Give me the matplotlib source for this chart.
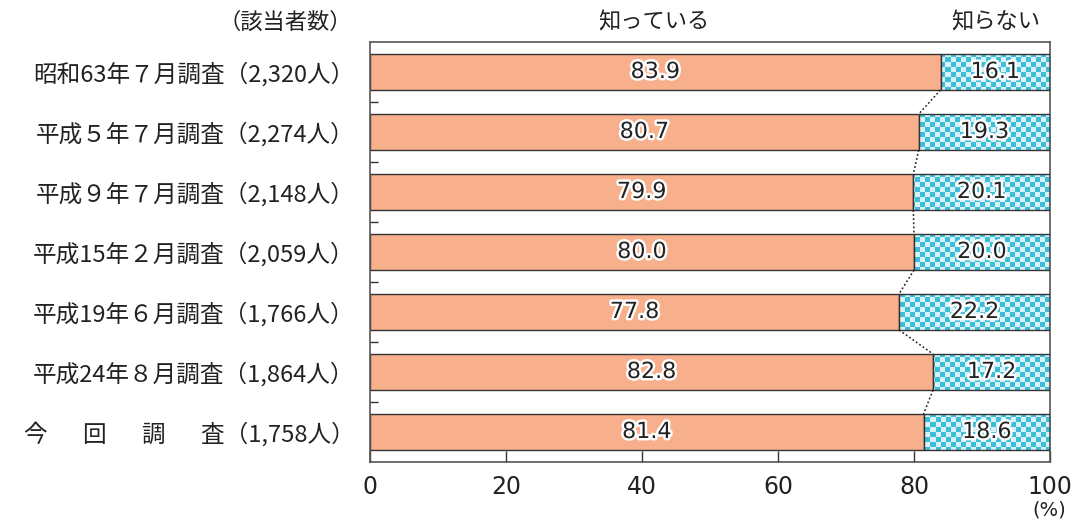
import numpy as np
import matplotlib.pyplot as plt
import matplotlib.patheffects as pe
from matplotlib.colors import ListedColormap

plt.rcParams['font.family'] = ['Noto Sans CJK JP', 'DejaVu Sans']

labels = ["昭和63年７月調査（2,320人）", "平成５年７月調査（2,274人）", "平成９年７月調査（2,148人）",
          "平成15年２月調査（2,059人）", "平成19年６月調査（1,766人）", "平成24年８月調査（1,864人）",
          "今\u3000\u2002回\u3000\u2002調\u3000\u2002査（1,758人）"]
know = [83.9, 80.7, 79.9, 80.0, 77.8, 82.8, 81.4]
dont_know = [16.1, 19.3, 20.1, 20.0, 22.2, 17.2, 18.6]
xticks = [0, 20, 40, 60, 80, 100]

ORANGE = "#f8af8b"
EDGE = "#333333"
TXT = "#222222"
H = 0.6

fig = plt.figure(figsize=(10.78, 5.21), dpi=100)
ax = fig.add_axes([370 / 1078, 1 - 462 / 521, 680 / 1078, 420 / 521])

y = np.arange(len(labels))
ax.barh(y, know, height=H, color=ORANGE, edgecolor=EDGE, linewidth=1)
bars2 = ax.barh(y, dont_know, left=know, height=H, color="none", edgecolor=EDGE, linewidth=1, zorder=3)

# checkered fill, clipped to each bar
nx, ny = 136, 84
checker = (np.add.outer(np.arange(ny), np.arange(nx)) % 2)
cmap = ListedColormap(["#3bbfd9", "#d9f1f7"])
for b in bars2:
    im = ax.imshow(checker, cmap=cmap, extent=(0, 100, 6.5, -0.5), aspect="auto",
                   interpolation="nearest", zorder=2)
    im.set_clip_path(b)

stroke = [pe.withStroke(linewidth=3.5, foreground="white")]
for i in range(len(labels)):
    ax.text(know[i] / 2, i, f"{know[i]:.1f}", ha="center", va="center", fontsize=16,
            family="DejaVu Sans", color=TXT, path_effects=stroke, zorder=5)
    ax.text(know[i] + dont_know[i] / 2, i, f"{dont_know[i]:.1f}", ha="center", va="center",
            fontsize=16, family="DejaVu Sans", color=TXT, path_effects=stroke, zorder=5)

# dotted connectors between bar boundaries
for i in range(len(labels) - 1):
    ax.plot([know[i], know[i + 1]], [i + H / 2, i + 1 - H / 2], ls=(0, (1.2, 1.5)),
            color=TXT, lw=1.1, zorder=4)

ax.set_xlim(0, 100)
ax.set_ylim(len(labels) - 0.5, -0.5)
ax.set_xticks(xticks)
ax.set_xticklabels([str(t) for t in xticks], fontsize=17, family="DejaVu Sans", color=TXT)
ax.tick_params(axis="x", direction="in", length=8, width=1, color="#333333", pad=9)
ax.set_yticks(y)
ax.set_yticklabels(labels, fontsize=17, color=TXT)
ax.tick_params(axis="y", which="major", length=0, pad=11)
ax.set_yticks(np.arange(0.5, len(labels) - 1, 1), minor=True)
ax.tick_params(axis="y", which="minor", direction="in", length=6, width=1, color="#333333")
for s in ax.spines.values():
    s.set_color("#555555")
    s.set_linewidth(1.2)

fig.text(352 / 1078, 1 - 22 / 521, "（該当者数）", ha="right", va="center", fontsize=16, color=TXT)
fig.text(654 / 1078, 1 - 22 / 521, "知っている", ha="center", va="center", fontsize=16, color=TXT)
fig.text(996 / 1078, 1 - 22 / 521, "知らない", ha="center", va="center", fontsize=16, color=TXT)
fig.text(1049 / 1078, 1 - 510 / 521, "(%)", ha="center", va="center", fontsize=14,
         family="DejaVu Sans", color=TXT)

fig.savefig("out.png", dpi=100)
